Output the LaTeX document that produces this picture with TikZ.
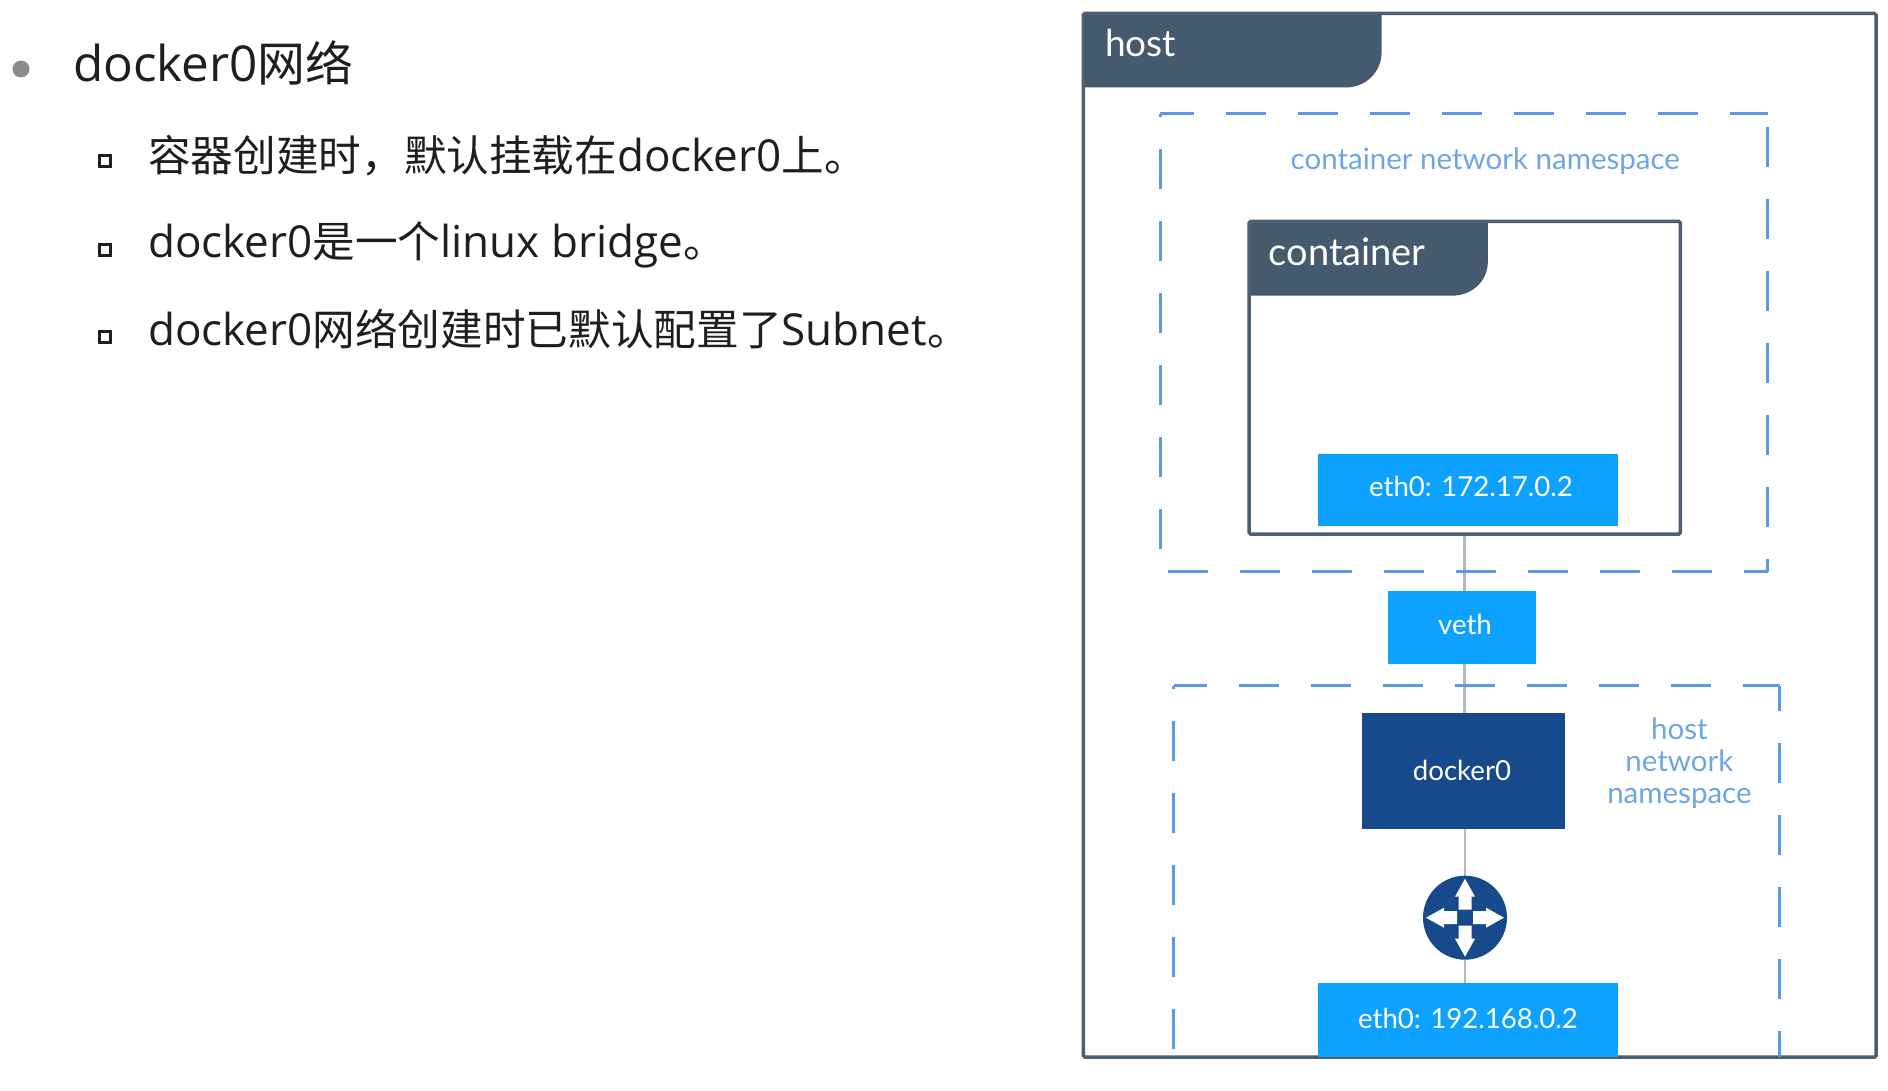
\documentclass[tikz,border=0pt]{standalone}
\usepackage{fontspec}
\setmainfont{Lato}
\newfontfamily\latinleft{Open Sans}
\newfontfamily\cjk[Scale=0.969]{Noto Sans CJK SC}
\usetikzlibrary{backgrounds}
\definecolor{tabc}{HTML}{455A6E}
\definecolor{framec}{HTML}{4D5F70}
\definecolor{dashc}{HTML}{5B9BE6}
\definecolor{ifacec}{HTML}{0DA2FF}
\definecolor{bridgec}{HTML}{164A8A}
\definecolor{nsc}{HTML}{6FA5E4}
\definecolor{wirec}{HTML}{B4B8BC}
\definecolor{bodyc}{HTML}{1E1E1E}
\tikzset{
 x=1pt,y=-1pt,
 frame/.style={draw=framec,line width=3.5pt,rounded corners=1.5pt},
 tabfill/.style={fill=tabc,draw=none},
 nsline/.style={draw=dashc,line width=3pt,dash pattern=on 40pt off 32pt},
 iface/.style={fill=ifacec,draw=none,inner sep=0pt},
 wire/.style={draw=wirec,line width=2.5pt},
 ifacetext/.style={text=white,inner sep=0pt,font=\fontsize{27.6}{32}\selectfont},
 tabtext/.style={text=white,inner sep=0pt,font=\fontsize{37}{42}\selectfont},
 nstext/.style={text=nsc,inner sep=0pt,align=center,font=\fontsize{29.5}{32}\selectfont},
 bodytext/.style={text=bodyc,inner sep=0pt,anchor=base west},
 subtext/.style={bodytext,font=\fontsize{44}{50}\latinleft},
 subbullet/.style={draw=bodyc,line width=3pt,minimum size=11pt,inner sep=0pt},
}
\begin{document}
\begin{tikzpicture}
\useasboundingbox (0,0) rectangle (1888,1091);
% left text
\node[circle,fill=gray!90,minimum size=17pt,inner sep=0pt] (b0) at (21,69) {};
\node[bodytext,font=\fontsize{49.4}{56}\latinleft] (t0) at (73,82) {docker0{\cjk 网络}};
\node[subbullet] (b1) at (104.5,161.5) {};
\node[subbullet] (b2) at (104.5,250) {};
\node[subbullet] (b3) at (104.5,337) {};
\node[subtext] (t1) at (148,172) {{\cjk 容器创建时，默认挂载在}docker0{\cjk 上。}};
\node[subtext] (t2) at (148,258) {docker0{\cjk 是一个}linux bridge{\cjk 。}};
\node[subtext] (t3) at (148,345) {docker0{\cjk 网络创建时已默认配置了}Subnet{\cjk 。}};
% host tab and frame
\fill[tabfill] (1083.3,13.5) -- (1381.6,13.5) -- (1381.6,52) .. controls (1381.6,72) and (1366,87.5) .. (1345.6,87.5) -- (1083.3,87.5) -- cycle;
\node[frame,minimum width=792.7pt,minimum height=1043.5pt,inner sep=0pt] (host) at (1479.65,535.25) {};
\node[tabtext,anchor=west] (hostlab) at (1105,43.5) {host};
% container network namespace
\draw[nsline,dash phase=6pt] (1160.3,113.6) -- (1767.7,113.6);
\draw[nsline,dash phase=58.6pt] (1767.7,113.6) -- (1767.7,571.6);
\draw[nsline] (1168.2,571.6) -- (1767.7,571.6);
\draw[nsline,dash phase=36.6pt] (1160.3,113.6) -- (1160.3,550);
\node[nstext] (nslab1) at (1485.3,161) {container network namespace};
% container
\fill[tabfill] (1249,221.5) -- (1487.8,221.5) -- (1487.8,262) .. controls (1487.8,281) and (1472,295.7) .. (1452,295.7) -- (1249,295.7) -- cycle;
\node[frame,minimum width=431.4pt,minimum height=312.5pt,inner sep=0pt] (container) at (1464.7,377.75) {};
\node[tabtext,anchor=west,font=\fontsize{38}{42}\selectfont] (containerlab) at (1268.5,252) {container};
\node[iface,minimum width=299.8pt,minimum height=72pt] (ethc) at (1467.7,489.7) {};
\node[ifacetext] (ethclab) at (1471,486) {eth0: 172.17.0.2};
% veth
\node[iface,minimum width=148.8pt,minimum height=72.7pt] (veth) at (1462,627.3) {};
\node[ifacetext] (vethlab) at (1465,624) {veth};
% host network namespace
\draw[nsline,dash phase=7.1pt] (1173.6,685.5) -- (1779.6,685.5);
\draw[nsline,dash phase=14.5pt] (1779.6,685.5) -- (1779.6,1057);
\draw[nsline,dash phase=36.5pt] (1173.6,685.5) -- (1173.6,1052);
\node[nstext] (nslab2) at (1679.4,763.6) {host\\network\\namespace};
% docker0
\node[fill=bridgec,inner sep=0pt,minimum width=203.4pt,minimum height=116pt] (docker) at (1463.5,771) {};
\node[ifacetext] (dockerlab) at (1462,770) {docker0};
% router
\node[circle,fill=bridgec,minimum size=84pt,inner sep=0pt] (router) at (1465,917.7) {};
\foreach \a in {0,90,180,270}{
  \fill[white,rotate around={\a:(router.center)},shift={(router.center)}]
    (0,-39) -- (10,-21) -- (6.5,-21) -- (6.5,-8) -- (-6.5,-8) -- (-6.5,-21) -- (-10,-21) -- cycle;
}
% eth0 host
\node[iface,minimum width=299.8pt,minimum height=73.6pt] (ethh) at (1467.9,1020.2) {};
\node[ifacetext] (ethhlab) at (1468,1018) {eth0: 192.168.0.2};
% connectors
\begin{pgfonlayer}{background}
\draw[wire] (container.south) -- (veth.north -| container.south);
\draw[wire] (veth.south -| container.south) -- (docker.north -| container.south);
\draw[wire] (docker.south -| router.north) -- (router.north);
\draw[wire] (router.south) -- (ethh.north -| router.south);
\end{pgfonlayer}
\end{tikzpicture}
\end{document}
